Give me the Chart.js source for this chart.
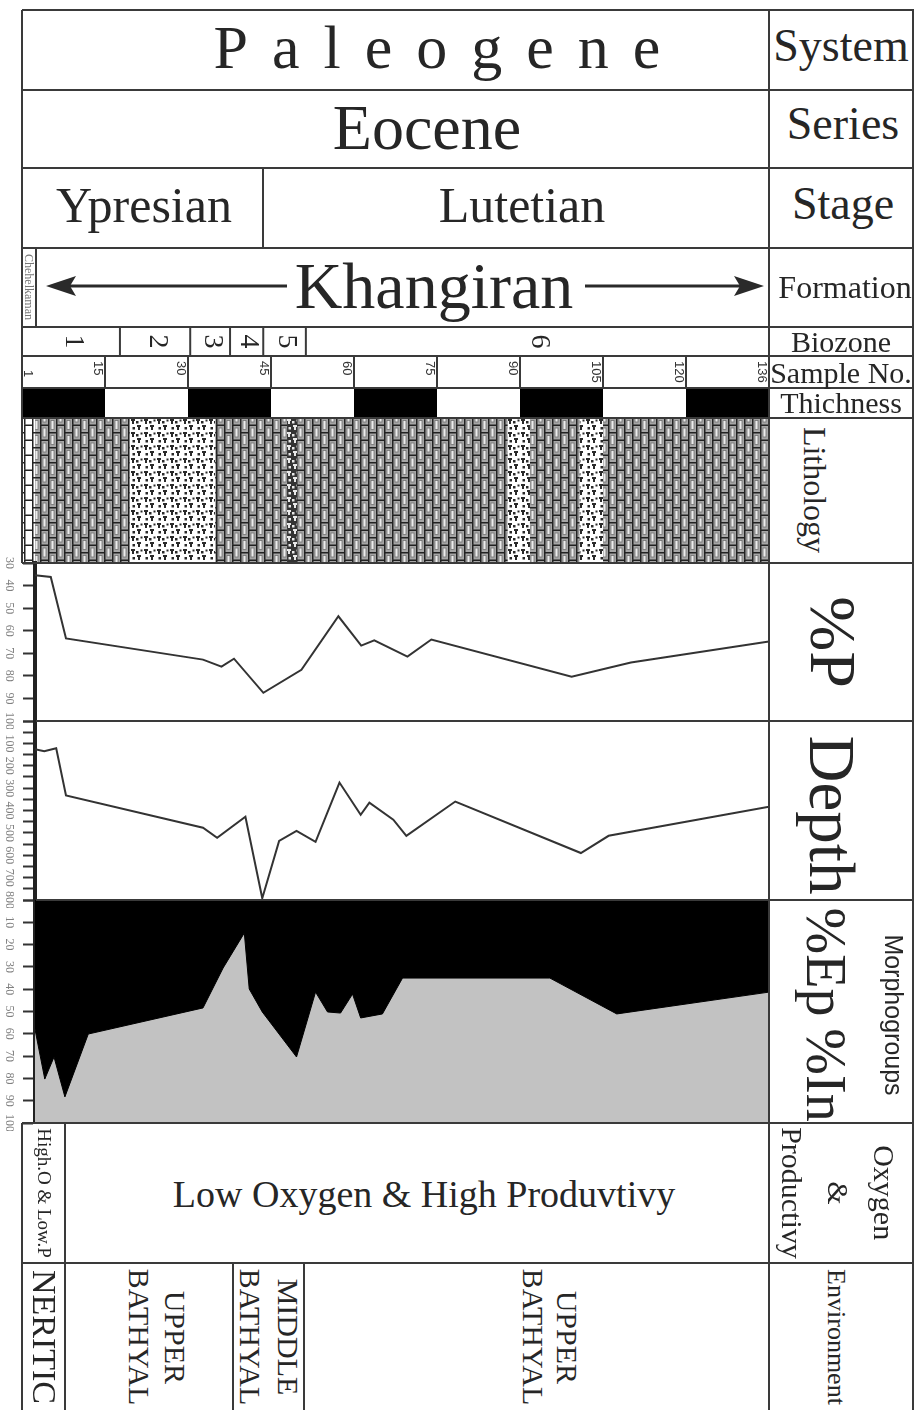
<!DOCTYPE html>
<html>
<head>
<meta charset="utf-8">
<script src="https://cdn.jsdelivr.net/npm/chart.js@4.4.1/dist/chart.umd.min.js"></script>
<style>
  body { margin: 0; background: #fff; }
  #page { position: relative; width: 917px; height: 1410px; overflow: hidden;
          font-family: "Liberation Serif", "Times New Roman", serif; color: #262626; }
  .ln { position: absolute; background: #3a3a3a; z-index: 3; }
  .t { position: absolute; transform: translate(-50%, -50%); white-space: nowrap;
       line-height: 1; text-align: center; z-index: 4; }
  .v { writing-mode: vertical-rl; }
  canvas { position: absolute; z-index: 1; }
</style>
</head>
<body>
<div id="page"></div>
<script>
// ---- data ----
const sampleTicks = [1, 15, 30, 45, 60, 75, 90, 105, 120, 136];
const thicknessBlocks = [1, 0, 1, 0, 1, 0, 1, 0, 1];
const biozoneLabels = ['1', '2', '3', '4', '5', '6'];
const biozoneBounds = [1, 17.7, 30.4, 37.6, 43.6, 51.3, 136];
const lithoUnits = [
  [1, 3.2, 'limeWhite'],
  [3.2, 19.5, 'lime'],
  [19.5, 34.9, 'marl'],
  [34.9, 47.9, 'lime'],
  [47.9, 49.7, 'marlDark'],
  [49.7, 87.8, 'lime'],
  [87.8, 91.8, 'marl'],
  [91.8, 100.8, 'lime'],
  [100.8, 105, 'marl'],
  [105, 136, 'lime']
];

const pSamples = [1, 3.9, 6.7, 31.9, 35.3, 37.6, 43.0, 50.0, 56.8, 61.0, 63.4, 69.5, 73.9, 99.7, 110.6, 136];
const pValues  = [35.4, 36.2, 63.4, 72.8, 75.9, 72.4, 87.5, 77.3, 53.6, 66.6, 64.3, 71.5, 63.9, 80.4, 74.1, 64.8];

const depthSamples = [1, 2.7, 4.9, 6.7, 31.9, 34.5, 39.7, 42.8, 45.9, 49.1, 52.6, 57.0, 60.9, 62.5, 66.9, 69.3, 78.3, 101.4, 106.5, 136];
const depthValues  = [126, 135, 122, 333, 477, 522, 428, 792, 536, 491, 540, 275, 419, 365, 441, 513, 360, 590, 513, 383];

const epSamples = [1, 2.8, 4.5, 6.5, 10.8, 31.9, 35.6, 39.5, 40.4, 42.8, 49.1, 52.6, 54.8, 57.2, 59.4, 60.9, 64.9, 68.6, 95.7, 108.0, 136];
const epValues  = [58, 80.3, 70.4, 88.3, 60.1, 48.4, 30.5, 14.8, 39.9, 50.2, 70.4, 41.3, 50.2, 50.7, 42.2, 52.9, 51.1, 35.0, 35.0, 51.1, 41.3];

// ---- page helpers ----
const page = document.getElementById('page');

function put(html, cx, cy, size, extra = '', cls = 't') {
  const d = document.createElement('div');
  d.className = cls;
  d.innerHTML = html;
  d.style.cssText = `left:${cx}px;top:${cy}px;font-size:${size}px;` + extra;
  page.appendChild(d);
}
function hl(x1, x2, y, w = 2) {
  const d = document.createElement('div');
  d.className = 'ln';
  d.style.cssText = `left:${x1}px;top:${y - w / 2}px;width:${x2 - x1}px;height:${w}px;`;
  page.appendChild(d);
}
function vl(x, y1, y2, w = 2) {
  const d = document.createElement('div');
  d.className = 'ln';
  d.style.cssText = `left:${x - w / 2}px;top:${y1}px;width:${w}px;height:${y2 - y1}px;`;
  page.appendChild(d);
}
function makeCanvas(left, top, w, h) {
  const c = document.createElement('canvas');
  c.width = w; c.height = h;
  c.style.left = left + 'px'; c.style.top = top + 'px';
  page.appendChild(c);
  return c;
}

// sample number -> position along the evenly spaced Sample No. ticks
function posOf(s) {
  for (let i = 1; i < sampleTicks.length; i++) {
    if (s <= sampleTicks[i]) return i - 1 + (s - sampleTicks[i - 1]) / (sampleTicks[i] - sampleTicks[i - 1]);
  }
  return sampleTicks.length - 1;
}

// ---- grid lines ----
[10, 90, 168, 248, 327, 356, 388, 418, 563].forEach(y => hl(22, 914, y));
hl(36, 914, 721);
hl(36, 914, 900);
[1123, 1263].forEach(y => hl(22, 914, y));
vl(22, 10, 563);
vl(22, 1123, 1410);
vl(769, 10, 1410);
vl(913, 10, 1410);
vl(263, 168, 248);
vl(36, 248, 327);
vl(65, 1123, 1410);
vl(233, 1263, 1410);
vl(304, 1263, 1410);

// ---- header text ----
put('Paleogene', 437, 47, 62, 'letter-spacing:24px;padding-left:24px;');
put('Eocene', 427, 128, 64);
put('Ypresian', 144, 205, 50);
put('Lutetian', 522, 205, 50);
put('Khangiran', 434, 286, 66);
put('Chehelkaman', 29, 287, 12, 'color:#777;', 't v');

// arrows around Khangiran
const svgNS = 'http://www.w3.org/2000/svg';
const svg = document.createElementNS(svgNS, 'svg');
svg.setAttribute('width', 917); svg.setAttribute('height', 80);
svg.style.cssText = 'position:absolute;left:0;top:248px;z-index:4;';
svg.innerHTML =
  '<line x1="70" y1="38" x2="287" y2="38" stroke="#2a2a2a" stroke-width="3"/>' +
  '<polygon points="46,38 76,28 70,38 76,48" fill="#2a2a2a"/>' +
  '<line x1="585" y1="38" x2="742" y2="38" stroke="#2a2a2a" stroke-width="3"/>' +
  '<polygon points="764,38 734,28 740,38 734,48" fill="#2a2a2a"/>';
page.appendChild(svg);

// right column
put('System', 841, 46, 46);
put('Series', 843, 124, 46);
put('Stage', 843, 204, 46);
put('Formation', 845, 287, 32);
put('Biozone', 841, 342, 30);
put('Sample No.', 841, 373, 30);
put('Thichness', 841, 403, 30);
put('Lithology', 815, 490, 32, '', 't v');
put('%P', 833, 642, 66, '', 't v');
put('Depth', 831, 815, 65, '', 't v');
put('%Ep', 826, 962, 56, '', 't v');
put('%In', 826, 1075, 56, '', 't v');
put('Morphogroups', 893, 1015, 25, 'font-family:"Liberation Sans",Arial,sans-serif;', 't v');
put('Oxygen<br>&amp;<br>Productivy', 838, 1193, 30, 'line-height:46px;', 't v');
put('Environment', 836, 1337, 26, '', 't v');

// bottom rows
put('High.O &amp; Low.P', 44, 1193, 19, '', 't v');
put('Low Oxygen &amp; High Produvtivy', 424, 1194, 38);
put('NERITIC', 44, 1337, 34, '', 't v');
put('UPPER<br>BATHYAL', 157, 1337, 30, 'line-height:36px;', 't v');
put('MIDDLE<br>BATHYAL', 269, 1337, 30, 'line-height:38px;', 't v');
put('UPPER<br>BATHYAL', 550, 1337, 30, 'line-height:34px;', 't v');

// ---- lithology fills ----
function brickPattern(body, slot) {
  const c = document.createElement('canvas');
  c.width = 16; c.height = 30;
  const g = c.getContext('2d');
  g.fillStyle = body; g.fillRect(0, 0, 16, 30);
  const brick = (x, y) => {
    if (slot) {
      g.fillStyle = slot; g.fillRect(x + 3, y + 3.5, 3, 9);
      g.strokeStyle = '#707070'; g.lineWidth = 0.8; g.strokeRect(x + 3, y + 3.5, 3, 9);
    }
    g.fillStyle = '#222';
    g.fillRect(x, y, 1.5, 15);
    g.fillRect(x, y, 8, 1.5);
  };
  brick(0, 0); brick(0, 15);
  brick(8, -7.5); brick(8, 7.5); brick(8, 22.5);
  return g.createPattern(c, 'repeat');
}
function marlPattern(bg, ink) {
  const c = document.createElement('canvas');
  c.width = 13; c.height = 13;
  const g = c.getContext('2d');
  g.fillStyle = bg; g.fillRect(0, 0, 13, 13);
  g.fillStyle = ink;
  g.fillRect(2, 1, 2, 5); g.fillRect(1, 1, 4, 2);
  g.fillRect(8, 7, 2, 5); g.fillRect(7, 7, 4, 2);
  g.fillRect(6, 3, 2.5, 2.5); g.fillRect(10.5, 1.5, 2, 2); g.fillRect(2.5, 9, 2.5, 2.5);
  return g.createPattern(c, 'repeat');
}

// ---- strip chart: biozones, sample no., thickness, lithology ----
const stripCanvas = makeCanvas(0, 327, 770, 236);
const stripCtx = stripCanvas.getContext('2d');
const lithoFill = {
  lime: brickPattern('#a6a6a6', '#ececec'),
  limeWhite: brickPattern('#ffffff', null),
  marl: marlPattern('#ffffff', '#2a2a2a'),
  marlDark: marlPattern('#333333', '#e8e8e8')
};

const stripPlugin = {
  id: 'strip',
  afterDraw(chart) {
    const ctx = chart.ctx;
    const xs = chart.scales.x;
    const { top, bottom } = chart.chartArea;
    const bz = [top, top + 29], sn = [top + 29, top + 61], th = [top + 61, top + 91], li = [top + 91, bottom];
    ctx.save();
    // lithology
    lithoUnits.forEach(([a, b, kind]) => {
      const x1 = xs.getPixelForValue(posOf(a)), x2 = xs.getPixelForValue(posOf(b));
      ctx.fillStyle = lithoFill[kind];
      ctx.fillRect(x1, li[0], x2 - x1, li[1] - li[0]);
    });
    // thickness bar
    ctx.fillStyle = '#000';
    thicknessBlocks.forEach((on, i) => {
      if (!on) return;
      const x1 = xs.getPixelForValue(i), x2 = xs.getPixelForValue(i + 1);
      ctx.fillRect(x1, th[0], x2 - x1, th[1] - th[0]);
    });
    // sample number dividers and labels
    ctx.strokeStyle = '#3a3a3a'; ctx.lineWidth = 2;
    ctx.fillStyle = '#333';
    ctx.font = '13px "Liberation Sans", Arial, sans-serif';
    ctx.textBaseline = 'middle'; ctx.textAlign = 'left';
    sampleTicks.forEach((s, i) => {
      const x = xs.getPixelForValue(i);
      ctx.beginPath(); ctx.moveTo(x, sn[0]); ctx.lineTo(x, sn[1]); ctx.stroke();
      ctx.save();
      if (i === 0) ctx.translate(x + 6, sn[0] + 14);
      else ctx.translate(x - 7, sn[0] + 5);
      ctx.rotate(Math.PI / 2);
      ctx.fillText(String(s), 0, 0);
      ctx.restore();
    });
    // biozones
    ctx.font = '28px "Liberation Serif", serif';
    ctx.textAlign = 'center';
    ctx.fillStyle = '#262626';
    biozoneLabels.forEach((lab, i) => {
      const x1 = xs.getPixelForValue(posOf(biozoneBounds[i]));
      const x2 = xs.getPixelForValue(posOf(biozoneBounds[i + 1]));
      if (i > 0) { ctx.beginPath(); ctx.moveTo(x1, bz[0]); ctx.lineTo(x1, bz[1]); ctx.stroke(); }
      ctx.save();
      ctx.translate((x1 + x2) / 2 + 2, (bz[0] + bz[1]) / 2);
      ctx.rotate(Math.PI / 2);
      ctx.fillText(lab, 0, 0);
      ctx.restore();
    });
    ctx.restore();
  }
};

new Chart(stripCtx, {
  type: 'line',
  data: { datasets: [] },
  options: {
    responsive: false, animation: false, devicePixelRatio: 1,
    layout: { padding: { left: 22, right: 1, top: 0, bottom: 0 } },
    plugins: { legend: { display: false }, tooltip: { enabled: false } },
    scales: {
      x: { type: 'linear', min: 0, max: sampleTicks.length - 1, display: false },
      y: { min: 0, max: 1, display: false }
    }
  },
  plugins: [stripPlugin]
});

// ---- curve panels ----
const axisLabels = {
  id: 'axisLabels',
  afterDraw(chart, args, o) {
    const s = chart.scales.y, ctx = chart.ctx;
    ctx.save();
    ctx.fillStyle = '#808080';
    ctx.font = '12px "Liberation Serif", serif';
    ctx.textAlign = 'center'; ctx.textBaseline = 'middle';
    s.ticks.forEach(t => {
      if (o.every && t.value % o.every) return;
      if (o.skip && o.skip.includes(t.value)) return;
      const y = s.getPixelForValue(t.value);
      ctx.save(); ctx.translate(9, y); ctx.rotate(Math.PI / 2);
      ctx.fillText(t.label, 0, 0);
      ctx.restore();
    });
    ctx.restore();
  }
};
const areaFill = {
  id: 'areaFill',
  beforeDatasetsDraw(chart, args, o) {
    if (!o.color) return;
    const { left, top, width, height } = chart.chartArea;
    chart.ctx.save();
    chart.ctx.fillStyle = o.color;
    chart.ctx.fillRect(left, top, width, height);
    chart.ctx.restore();
  }
};

function curvePanel(top, height, xs, ys, yMin, yMax, step, ds, labelOpts, bg) {
  const pad = 8;
  const cv = makeCanvas(0, top - pad, 770, height + pad * 2);
  return new Chart(cv.getContext('2d'), {
    type: 'line',
    data: {
      datasets: [Object.assign({
        data: xs.map((x, i) => ({ x, y: ys[i] })),
        borderColor: '#333', borderWidth: 2, pointRadius: 0, tension: 0, fill: false
      }, ds)]
    },
    options: {
      responsive: false, animation: false, devicePixelRatio: 1,
      layout: { padding: { left: 0, right: 1, top: pad, bottom: pad } },
      plugins: {
        legend: { display: false }, tooltip: { enabled: false },
        axisLabels: labelOpts, areaFill: { color: bg }
      },
      scales: {
        x: { type: 'linear', min: sampleTicks[0], max: sampleTicks[sampleTicks.length - 1], display: false },
        y: {
          position: 'left', reverse: true, min: yMin, max: yMax,
          ticks: { stepSize: step, display: false },
          grid: { drawOnChartArea: false, drawTicks: true, tickLength: 12, tickWidth: 2, tickColor: '#333' },
          border: { display: true, width: 4, color: '#222' },
          afterFit: s => { s.width = 35; }
        }
      }
    },
    plugins: [areaFill, axisLabels]
  });
}

curvePanel(563, 158, pSamples, pValues, 30, 100, 10, {}, {}, null);
curvePanel(721, 179, depthSamples, depthValues, 0, 800, 50, {}, { every: 100, skip: [0] }, null);
curvePanel(900, 223, epSamples, epValues, 0, 100, 10,
  { fill: 'origin', backgroundColor: '#000', borderColor: '#000', borderWidth: 1 },
  { skip: [0] }, '#c2c2c2');
</script>
</body>
</html>
